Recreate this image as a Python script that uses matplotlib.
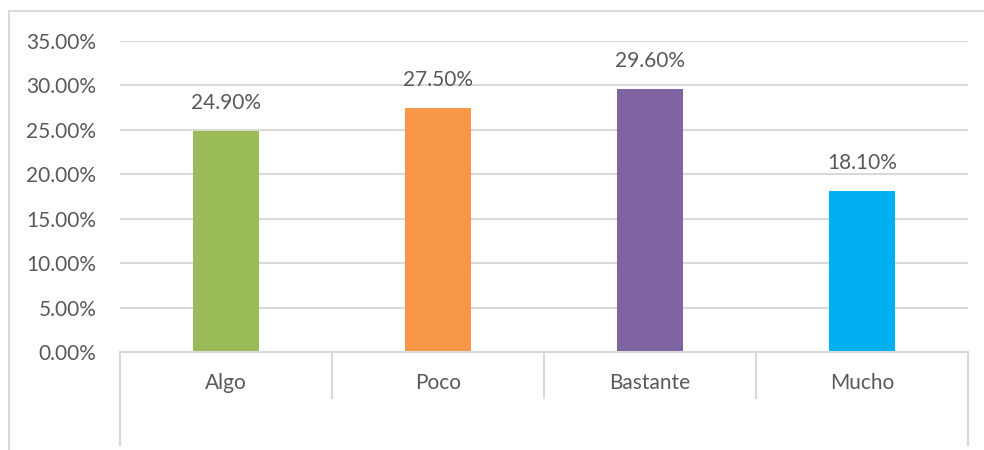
import matplotlib.pyplot as plt
from matplotlib.lines import Line2D
from matplotlib.ticker import FuncFormatter

categorias = ["Algo", "Poco", "Bastante", "Mucho"]
porcentajes = [0.249, 0.275, 0.296, 0.181]
colores = ["#9BBB59", "#F79646", "#8064A2", "#00B0F0"]

gris_texto = "#595959"
gris_linea = "#D9D9D9"

plt.rcParams["font.family"] = ["Lato", "DejaVu Sans"]

fig = plt.figure(figsize=(9.84, 4.5), dpi=100)
ax = fig.add_axes([120 / 984, 1 - 352 / 450, 848 / 984, 311 / 450])

x = range(len(categorias))
ax.bar(x, porcentajes, width=0.316, color=colores, zorder=3)

for i, v in zip(x, porcentajes):
    ax.annotate(f"{v * 100:.2f}%", (i, v), xytext=(0, 20), textcoords="offset points",
                ha="center", va="center", fontsize=15, color=gris_texto)

ax.set_xlim(-0.5, len(categorias) - 0.5)
ax.set_ylim(0, 0.35)
ax.set_yticks([i * 0.05 for i in range(8)])
ax.yaxis.set_major_formatter(FuncFormatter(lambda v, p: f"{v * 100:.2f}%"))
ax.tick_params(axis="y", length=0, pad=17, labelsize=15, labelcolor=gris_texto)

ax.set_xticks(list(x))
ax.set_xticklabels(categorias)
ax.tick_params(axis="x", length=0, pad=15, labelsize=15, labelcolor=gris_texto)

ax.grid(axis="y", color=gris_linea, linewidth=1.5, zorder=0)
for s in ax.spines.values():
    s.set_visible(False)
ax.axhline(0, color=gris_linea, linewidth=1.5, zorder=4, clip_on=False)

# lineas de la tabla de categorias
tr = ax.get_xaxis_transform()
bordes = [i - 0.5 for i in range(len(categorias) + 1)]
for k, b in enumerate(bordes):
    fondo = -0.299 if k in (0, len(bordes) - 1) else -0.148
    ax.plot([b, b], [0, fondo], color=gris_linea, linewidth=1.5,
            transform=tr, clip_on=False)

# borde del grafico
fig.add_artist(Line2D([9 / 984, 9 / 984], [0, 1 - 11 / 450], color=gris_linea, linewidth=1.5))
fig.add_artist(Line2D([9 / 984, 1], [1 - 11 / 450, 1 - 11 / 450], color=gris_linea, linewidth=1.5))

fig.savefig("out.png", dpi=100)
